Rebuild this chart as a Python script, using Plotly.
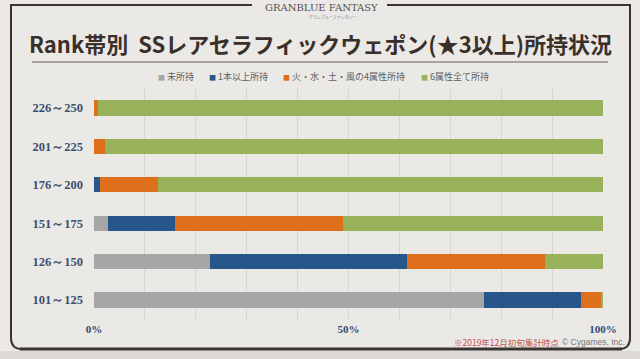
import plotly.graph_objects as go

W, H = 640, 359

categories = ["226～250", "201～225", "176～200", "151～175", "126～150", "101～125"]
series_names = ["未所持", "1本以上所持", "火・水・土・風の4属性所持", "6属性全て所持"]
not_owned = [0, 0, 0, 2.8, 22.8, 76.7]
one_or_more = [0, 0, 1.2, 13.1, 38.6, 19.0]
four_elements = [0.8, 2.1, 11.3, 33.1, 27.3, 4.0]
all_six = [99.2, 97.9, 87.5, 51.0, 11.3, 0.3]
tick_vals = [0, 50, 100]
tick_text = ["0%", "50%", "100%"]

colors = ["#a6a6a6", "#27568a", "#de701c", "#98b25c"]
series_values = [not_owned, one_or_more, four_elements, all_six]


def px(x):
    return x / W


def py(y):
    return 1 - y / H


fig = go.Figure()
for name, vals, col in zip(series_names, series_values, colors):
    fig.add_trace(go.Bar(
        y=categories, x=vals, name=name, orientation="h",
        marker=dict(color=col, line=dict(width=0)),
        hoverinfo="skip", showlegend=False,
    ))

shapes = []
frame_col = "#3b3431"
# bottom strip
shapes.append(dict(type="rect", xref="paper", yref="paper", x0=0, x1=1, y0=0, y1=py(351),
                   fillcolor="#dddad6", line=dict(width=0), layer="below"))
# frame lines
for (x0, y0, x1, y1, w) in [
    (10, 5, 252, 5, 2), (387, 5, 631, 5, 2),
    (11, 5, 11, 338, 2), (630, 5, 630, 338, 2),
    (20, 349, 622, 349, 3),
]:
    shapes.append(dict(type="line", xref="paper", yref="paper",
                       x0=px(x0), y0=py(y0), x1=px(x1), y1=py(y1),
                       line=dict(color=frame_col, width=w)))
# corner curls
shapes.append(dict(type="path", xref="paper", yref="paper",
                   path=f"M {px(11)},{py(338)} Q {px(11)},{py(349)} {px(22)},{py(349)}",
                   line=dict(color=frame_col, width=2)))
shapes.append(dict(type="path", xref="paper", yref="paper",
                   path=f"M {px(630)},{py(338)} Q {px(630)},{py(349)} {px(619)},{py(349)}",
                   line=dict(color=frame_col, width=2)))
# title underline
shapes.append(dict(type="line", xref="paper", yref="paper",
                   x0=px(32), y0=py(62), x1=px(608), y1=py(62),
                   line=dict(color="#8f8984", width=1.5)))


def ann(text, x, y, size, color, family="Noto Sans CJK JP", xanchor="center", weight="normal"):
    return dict(text=text, x=px(x), y=py(y), xref="paper", yref="paper",
                xanchor=xanchor, yanchor="middle", showarrow=False,
                font=dict(family=family, size=size, color=color, weight=weight))


annotations = [
    ann("GRANBLUE FANTASY", 321, 8, 10, "#555050", family="DejaVu Serif"),
    ann("グランブルーファンタジー", 333, 17, 4, "#777777"),
    ann("Rank帯別  SSレアセラフィックウェポン(★3以上)所持状況", 320, 43, 22, "#3a302a",
        weight="bold"),
    ann("※2019年12月初旬集計時点", 506, 342, 8.5, "#c0504d"),
    ann("© Cygames, Inc.", 593, 342, 8.5, "#777777", family="Liberation Sans"),
]

# legend entries (colored square glyph + label)
legend_x = [156, 207, 281, 419]
for name, col, lx in zip(series_names, colors, legend_x):
    annotations.append(ann(f"<span style='color:{col};font-size:7px'>■</span> {name}",
                           lx, 76, 9, "#5f5f5f", xanchor="left"))

fig.update_layout(
    width=W, height=H,
    barmode="stack", bargap=0.6,
    paper_bgcolor="#ebe9e6", plot_bgcolor="#ebe9e6",
    margin=dict(l=0, r=0, t=0, b=0, autoexpand=False),
    showlegend=False,
    xaxis=dict(domain=[px(94), px(603)], range=[0, 100], automargin=False,
               tickvals=tick_vals, ticktext=tick_text,
               showgrid=True, gridcolor="#d8d6d3", gridwidth=1,
               minor=dict(dtick=10, showgrid=True, gridcolor="#d8d6d3", gridwidth=1),
               zeroline=False, showline=False, ticks="",
               tickfont=dict(family="Liberation Serif", size=11, color="#2f4a72", weight="bold"),
               ticklabelstandoff=2, fixedrange=True),
    yaxis=dict(domain=[py(319.25), py(88.75)], autorange="reversed", automargin=False,
               categoryorder="array", categoryarray=categories,
               showgrid=False, zeroline=False, showline=False, ticks="",
               tickfont=dict(family="Liberation Serif", size=12.5, color="#3d4f6e", weight="bold"),
               ticklabelstandoff=10, fixedrange=True),
    shapes=shapes, annotations=annotations,
)

fig.write_html("out.html", config={"displayModeBar": False},
               post_script="document.body.style.margin='0px';document.body.style.overflow='hidden';")
